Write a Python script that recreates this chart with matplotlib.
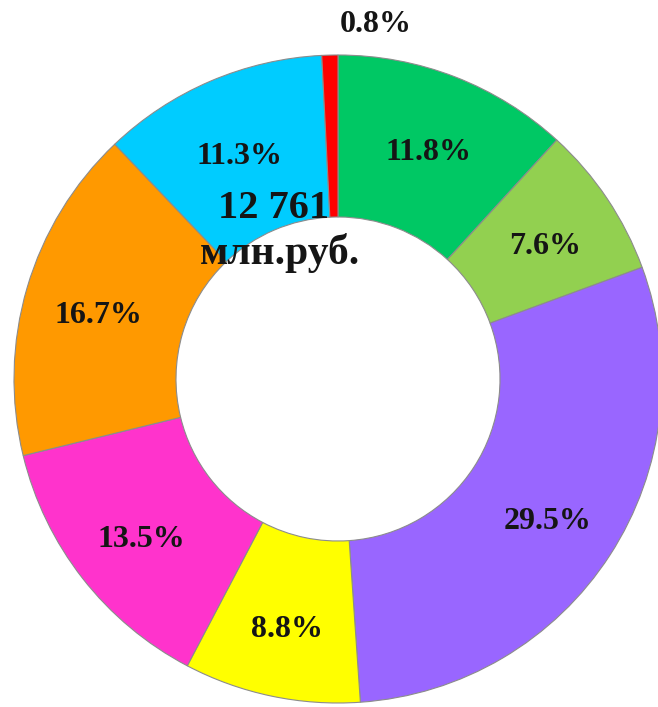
import matplotlib.pyplot as plt

# доли затрат, по часовой стрелке от вершины
shares = [11.8, 7.6, 29.5, 8.8, 13.5, 16.7, 11.3, 0.8]
colors = ["#00C864", "#92D050", "#9966FF", "#FFFF00",
          "#FF33CC", "#FF9900", "#00CCFF", "#FF0000"]
total_value = "12 761"
total_unit = "млн.руб."

plt.rcParams['font.family'] = ['Liberation Serif', 'DejaVu Serif']

fig = plt.figure(figsize=(6.58, 7.07), dpi=100)
ax = fig.add_axes([0, 0, 1, 1])

wedges, texts, autotexts = ax.pie(
    shares, colors=colors, startangle=90, counterclock=False,
    radius=1.0, pctdistance=0.77,
    autopct=lambda p: f"{p:.1f}%",
    wedgeprops=dict(width=0.5, edgecolor="#8c8c8c", linewidth=0.8),
    textprops=dict(fontsize=23, fontweight="bold", color="#151515"),
)

# подписи в кольце чуть ниже
for t in autotexts[:-1]:
    x, y = t.get_position()
    t.set_position((x, y - 0.02))

# маленькую долю подписываем снаружи
autotexts[-1].set_position((0.115, 1.095))

ax.text(-0.2, 0.525, total_value, ha="center", va="center",
        fontsize=29, fontweight="bold", color="#151515")
ax.text(-0.18, 0.39, total_unit, ha="center", va="center",
        fontsize=30, fontweight="bold", color="#151515")

# центр кольца в пикселях (338, 379), радиус 324 px
s = 324.0
ax.set_xlim(-338 / s, (658 - 338) / s)
ax.set_ylim(-(707 - 379) / s, 379 / s)
ax.set_aspect("auto")
ax.axis("off")

fig.savefig("out.png", dpi=100)
